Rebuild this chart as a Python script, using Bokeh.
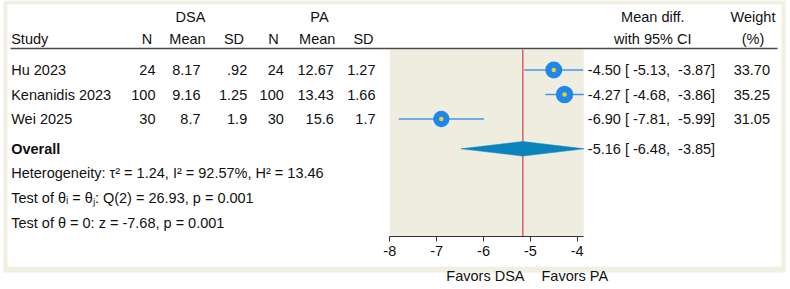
from bokeh.plotting import figure
from bokeh.models import Range1d, LinearAxis, FixedTicker, ColumnDataSource
from bokeh.core.properties import value
from bokeh.embed import file_html
from bokeh.resources import INLINE

# ---- study data -------------------------------------------------------
studies = ["Hu 2023", "Kenanidis 2023", "Wei 2025"]
dsa_n = [24, 100, 30]
dsa_mean = [8.17, 9.16, 8.7]
dsa_sd = [0.92, 1.25, 1.9]
pa_n = [24, 100, 30]
pa_mean = [12.67, 13.43, 15.6]
pa_sd = [1.27, 1.66, 1.7]
mean_diff = [-4.50, -4.27, -6.90]
ci_low = [-5.13, -4.68, -7.81]
ci_high = [-3.87, -3.86, -5.99]
weight = [33.70, 35.25, 31.05]

# pooled random-effects estimate
overall_md = -5.16
overall_low = -6.48
overall_high = -3.85

# heterogeneity and tests
tau2 = 1.24
i2 = 92.57
h2 = 13.46
q_df = 2
q_stat = 26.93
q_p = 0.001
z_stat = -7.68
z_p = 0.001

x_ticks = [-8, -7, -6, -5, -4]
x_min = -8
x_max = -3.86

# ---- layout -------------------------------------------------------------
W, H = 790, 289
PANEL_LEFT_PX = 389.3
PX_PER_UNIT = 46.85
FONT = value("Liberation Sans")
FS = "14.5px"
TXT = "#111111"
NB = "\u00a0"


def px(xpix):
    """Convert a horizontal canvas position into x data units."""
    return x_min + (xpix - PANEL_LEFT_PX) / PX_PER_UNIT


def fmt(v):
    s = f"{v:g}"
    if s.startswith("0."):
        s = s[1:]
    return s


ROW0, STEP = 69.5, 24.5
row_y = [ROW0 + i * STEP for i in range(len(studies))]
overall_y = 148.3
stats_y = [172.8, 197.8, 222.8]
head1_y, head2_y = 16.8, 38.3
rule_y = 48
panel_top, axis_y = 49, 236
favors_y = 275

p = figure(width=W, height=H, x_range=Range1d(px(0), px(W)), y_range=Range1d(H, 0),
           min_border=0, toolbar_location=None, output_backend="svg",
           x_axis_location=None, y_axis_location=None)
p.grid.visible = False
p.outline_line_color = None
p.background_fill_color = "white"
p.border_fill_color = "white"

# outer frame
p.quad(left=px(3), right=px(785), top=0, bottom=272, fill_color="#f0efe2", line_color=None)
p.quad(left=px(7), right=px(781), top=4, bottom=266, fill_color="white", line_color=None)

# forest panel background
p.quad(left=x_min, right=x_max, top=panel_top, bottom=axis_y, fill_color="#efede0", line_color=None)

# header rule
p.segment(x0=px(10), y0=rule_y, x1=px(777), y1=rule_y, line_color="#4a4a4a", line_width=1.5)

# overall effect line
p.segment(x0=overall_md, y0=panel_top, x1=overall_md, y1=axis_y, line_color="#d6394f", line_width=1.2)

# study estimates
src = ColumnDataSource(dict(
    y=row_y, md=mean_diff, lo=ci_low, hi=ci_high, w=weight,
    size=[17 * (w / 33.7) ** 0.5 for w in weight],
))
p.segment(x0="lo", y0="y", x1="hi", y1="y", source=src, line_color="#4596e6", line_width=1.6)
p.scatter(x="md", y="y", size="size", source=src, fill_color="#1e87ee", line_color=None)
p.scatter(x="md", y="y", size=4.5, source=src, fill_color="#f2d40c", line_color=None)

# pooled diamond
p.patch(x=[overall_low, overall_md, overall_high, overall_md],
        y=[overall_y, overall_y - 7.3, overall_y, overall_y + 7.3],
        fill_color="#0b84bd", line_color="#0b84bd", line_width=0.5)


def put(x, y, text, align="left", style="normal"):
    p.text(x=x, y=y, text=text, text_font=FONT, text_font_size=FS, text_color=TXT,
           text_align=align, text_baseline="middle", text_font_style=style)


# column headers
put([px(190), px(319)], [head1_y] * 2, ["DSA", "PA"], "center")
put([px(10.7)], [head2_y], ["Study"])
put([px(146.5), px(187), px(233.5), px(273), px(316.7), px(363)], [head2_y] * 6,
    ["N", "Mean", "SD", "N", "Mean", "SD"], "center")
put([px(652.3), px(752.5)], [head1_y] * 2, ["Mean diff.", "Weight"], "center")
put([px(652.3), px(752.5)], [head2_y] * 2, ["with 95% CI", "(%)"], "center")

# study rows
put([px(10.7)] * 3, row_y, studies)
cols = [(dsa_n, 155), (dsa_mean, 200), (dsa_sd, 246.7), (pa_n, 283.3), (pa_mean, 333.3), (pa_sd, 375)]
for vals, right in cols:
    put([px(right)] * 3, row_y, [fmt(v) for v in vals], "right")

ci_text = [f"{m:.2f}{NB}[{NB}{l:.2f},{NB}{NB}{h:.2f}]" for m, l, h in zip(mean_diff, ci_low, ci_high)]
put([px(587.3)] * 3, row_y, ci_text)
put([px(769.5)] * 3, row_y, [f"{w:.2f}" for w in weight], "right")

# overall row
put([px(10.7)], [overall_y], ["Overall"], style="bold")
put([px(587.3)], [overall_y],
    [f"{overall_md:.2f}{NB}[{NB}{overall_low:.2f},{NB}{NB}{overall_high:.2f}]"])

stats = [
    f"Heterogeneity: \u03c4\u00b2 = {tau2:.2f}, I\u00b2 = {i2:.2f}%, H\u00b2 = {h2:.2f}",
    f"Test of \u03b8\u1d62 = \u03b8\u2c7c: Q({q_df}) = {q_stat:.2f}, p = {q_p:.3f}",
    f"Test of \u03b8 = 0: z = {z_stat:.2f}, p = {z_p:.3f}",
]
put([px(10.7)] * 3, stats_y, stats)

# axis direction labels
put([px(524)], [favors_y], ["Favors DSA"], "right")
put([px(541)], [favors_y], ["Favors PA"])

# x axis sitting under the forest panel, labels with a plain hyphen
ax = LinearAxis(ticker=FixedTicker(ticks=x_ticks), fixed_location=axis_y, bounds=(x_min, x_max),
                major_tick_out=5, major_tick_in=0, minor_tick_out=0, minor_tick_in=0,
                axis_line_color="#333333", major_tick_line_color="#333333",
                major_label_text_font="Liberation Sans", major_label_text_font_size=FS,
                major_label_text_color=TXT, major_label_standoff=4,
                major_label_overrides={t: str(t) for t in x_ticks})
p.add_layout(ax, "below")

open("out.html", "w").write(file_html(p, INLINE))
